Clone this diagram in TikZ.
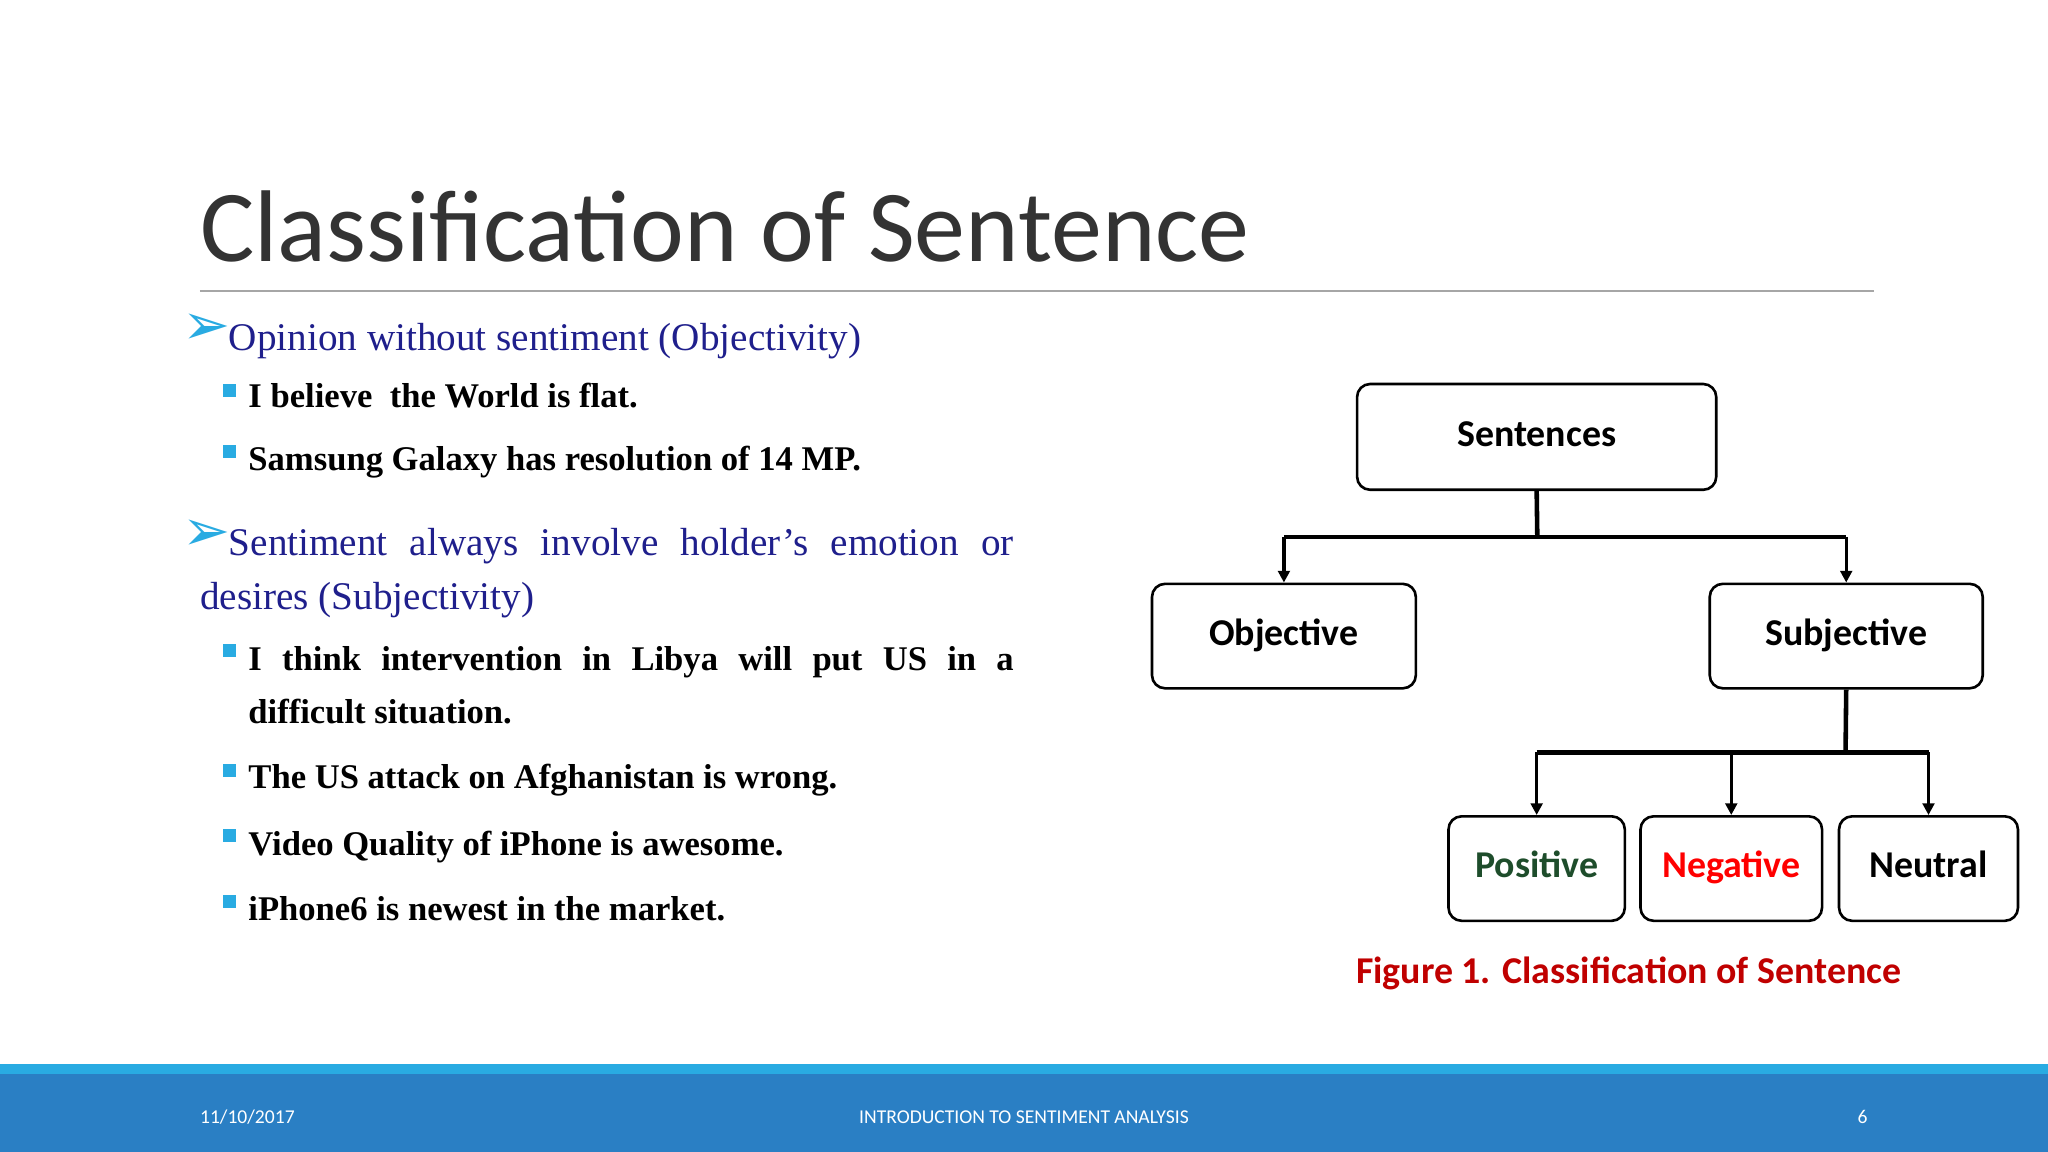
\documentclass[tikz,border=0pt]{standalone}
\usepackage{fontspec}
\setmainfont{Liberation Serif}
\newfontfamily\calfnt{Carlito}
\newfontfamily\djfnt{DejaVu Sans}
\usetikzlibrary{arrows.meta}
\definecolor{cyanb}{HTML}{29ABE2}
\definecolor{footb}{HTML}{2A7FC4}
\definecolor{navy}{HTML}{1F1F8C}
\definecolor{posg}{HTML}{1E4D2B}
\definecolor{capred}{HTML}{C00000}
\tikzset{
 box/.style={draw=black,line width=2pt,rounded corners=10pt,font=\calfnt\bfseries\fontsize{29}{34}\selectfont,inner sep=0pt,text height=20pt,text depth=6pt},
 conn/.style={line width=3.5pt},
 arr/.style={line width=2.5pt,-{Triangle[length=9pt,width=9pt]}},
 sub/.style={anchor=base west,inner sep=0pt,font=\bfseries\fontsize{26.5}{41}\selectfont},
 sq/.style={fill=cyanb,minimum size=10pt,inner sep=0pt},
 main/.style={anchor=base west,inner sep=0pt,text=navy,font=\fontsize{30}{42}\selectfont},
 arrb/.style={anchor=center,inner sep=0pt,text=cyanb,font=\djfnt\fontsize{44}{44}\selectfont},
}
\begin{document}
\begin{tikzpicture}[x=1pt,y=-1pt]
\useasboundingbox (0,0) rectangle (1568,882);
\fill[white] (0,0) rectangle (1568,882);
\node[anchor=base west,inner sep=0pt,font=\calfnt\fontsize{78}{80}\selectfont,text=black!80] (title) at (153,200) {Classification of Sentence};
\draw[black!35,line width=1.2pt] (153,223) -- (1435,223);
% bullets
\node[arrb] (a1) at (158,252) {➢};
\node[main] (t1) at (175,268) {Opinion without sentiment (Objectivity)};
\node[sq] (s1) at (176,299) {};
\node[sub] (u1) at (190,312) {I believe\ \ the World is flat.};
\node[sq] (s2) at (176,346) {};
\node[sub] (u2) at (190,360) {Samsung Galaxy has resolution of 14 MP.};
\node[arrb] (a2) at (158,410) {➢};
\node[anchor=base west,inner sep=0pt,text=navy,text width=623pt,align=justify,font=\fontsize{30}{42}\selectfont] (t2) at (153,425) {\hspace*{22pt}Sentiment always involve holder’s emotion or\linebreak desires (Subjectivity)};
\node[sq] (s3) at (176,498) {};
\node[anchor=base west,inner sep=0pt,text width=586pt,align=justify,font=\bfseries\fontsize{26.5}{41}\selectfont] (u3) at (190,513) {I think intervention in Libya will put US in a\linebreak difficult situation.};
\node[sq] (s4) at (176,590) {};
\node[sub] (u4) at (190,604) {The US attack on Afghanistan is wrong.};
\node[sq] (s5) at (176,640) {};
\node[sub] (u5) at (190,655) {Video Quality of iPhone is awesome.};
\node[sq] (s6) at (176,690) {};
\node[sub] (u6) at (190,705) {iPhone6 is newest in the market.};
% diagram
\node[box,minimum width=275pt,minimum height=81pt] (sen) at (1176.5,334.5) {Sentences};
\node[box,minimum width=202pt,minimum height=80pt] (obj) at (983,487) {Objective};
\node[box,minimum width=209pt,minimum height=80pt] (subj) at (1413.5,487) {Subjective};
\node[box,minimum width=135pt,minimum height=80pt,text=posg] (pos) at (1176.5,665) {Positive};
\node[box,minimum width=139pt,minimum height=80pt,text=red] (neg) at (1325.5,665) {Negative};
\node[box,minimum width=137pt,minimum height=80pt] (neu) at (1476.5,665) {Neutral};
\coordinate (j1) at (1177,411);
\coordinate (j2) at (1413,576);
\draw[conn] (sen.south) -- (j1);
\draw[conn] (obj.north |- j1) -- (subj.north |- j1);
\draw[arr] (obj.north |- j1) -- (obj.north);
\draw[arr] (subj.north |- j1) -- (subj.north);
\draw[conn] (subj.south) -- (j2);
\draw[conn] (pos.north |- j2) -- (neu.north |- j2);
\draw[arr] (pos.north |- j2) -- (pos.north);
\draw[arr] (neg.north |- j2) -- (neg.north);
\draw[arr] (neu.north |- j2) -- (neu.north);
\node[anchor=base,inner sep=0pt,text=capred,font=\calfnt\bfseries\fontsize{29}{34}\selectfont] (cap) at (1247,753) {Figure 1. Classification of Sentence};
% footer
\fill[cyanb] (0,815) rectangle (1568,822);
\fill[footb] (0,822) rectangle (1568,882);
\node[anchor=base west,inner sep=0pt,text=white,font=\calfnt\fontsize{15}{18}\selectfont] (date) at (153,860) {11/10/2017};
\node[anchor=base,inner sep=0pt,text=white,font=\calfnt\fontsize{15}{18}\selectfont] (ft) at (784,860) {INTRODUCTION TO SENTIMENT ANALYSIS};
\node[anchor=base,inner sep=0pt,text=white,font=\calfnt\fontsize{15}{18}\selectfont] (pg) at (1426,860) {6};
\end{tikzpicture}
\end{document}
